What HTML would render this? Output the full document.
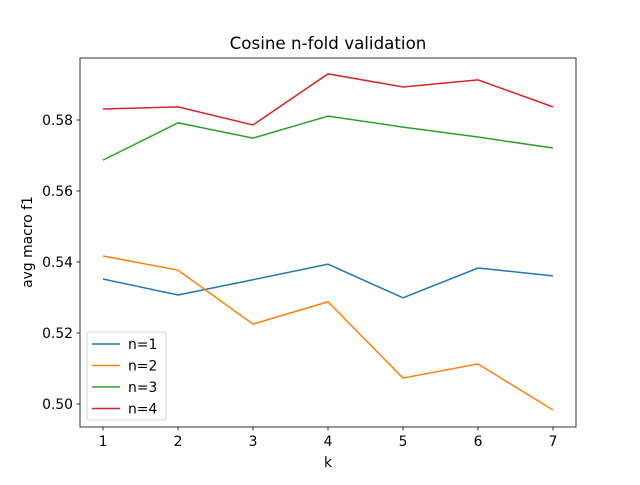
<!DOCTYPE html>
<html><head><meta charset="utf-8"><style>
body{margin:0;background:#fff;font-family:"Liberation Sans","DejaVu Sans",sans-serif}
svg text{font-family:"DejaVu Sans","Liberation Sans",sans-serif}
</style></head><body>
<svg id="chart" width="640" height="480" xmlns="http://www.w3.org/2000/svg">
<rect width="640" height="480" fill="#fff"/>
<g id="plot"></g>
</svg>
<script>
const categories=[1,2,3,4,5,6,7];
const seriesNames=["n=1","n=2","n=3","n=4"];
const n1=[0.5352,0.5307,0.5350,0.5394,0.5299,0.5383,0.5361];
const n2=[0.5417,0.5377,0.5225,0.5288,0.5073,0.5113,0.4983];
const n3=[0.5687,0.5792,0.5749,0.5811,0.5780,0.5752,0.5721];
const n4=[0.5831,0.5837,0.5786,0.5930,0.5893,0.5913,0.5837];
const yTicks=[0.50,0.52,0.54,0.56,0.58];
const xTicks=[1,2,3,4,5,6,7];
const colors=["#1f77b4","#ff7f0e","#2ca02c","#d62728"];
const L=80,R=576,T=58,B=427;
const x=v=>103+(v-1)*75;
const y=v=>404-(v-0.5)*3550;
const NS="http://www.w3.org/2000/svg";
const g=document.getElementById('plot');
function mk(t,a,p){const e=document.createElementNS(NS,t);for(const k in a)e.setAttribute(k,a[k]);(p||g).appendChild(e);return e;}
[n1,n2,n3,n4].forEach((s,i)=>{
 const p=mk('polyline',{points:s.map((v,j)=>x(categories[j])+','+y(v)).join(' '),fill:'none',stroke:colors[i],'stroke-width':1.5});
 
 
});
const fr=mk('rect',{x:L,y:T,width:R-L,height:B-T,fill:'none',stroke:'#000','stroke-width':0.8});


xTicks.forEach(t=>{
 mk('line',{x1:x(t),x2:x(t),y1:B,y2:B+3.5,stroke:'#000','stroke-width':0.8});
 const tx=mk('text',{x:x(t),y:B+19,'font-size':13.9,'text-anchor':'middle'});tx.textContent=t;
 
 
});
yTicks.forEach(t=>{
 mk('line',{x1:L-3.5,x2:L,y1:y(t),y2:y(t),stroke:'#000','stroke-width':0.8});
 const tx=mk('text',{x:L-7,y:y(t)+5,'font-size':13.9,'text-anchor':'end'});tx.textContent=t.toFixed(2);
 
 
});
const ti=mk('text',{x:328,y:49,'font-size':16.7,'text-anchor':'middle'});ti.textContent='Cosine n-fold validation';


const xl=mk('text',{x:328,y:467,'font-size':13.9,'text-anchor':'middle'});xl.textContent='k';


const yl=mk('text',{x:32,y:242,'font-size':13.9,'text-anchor':'middle',transform:'rotate(-90 32 242)'});yl.textContent='avg macro f1';


const lg=mk('g',{});


mk('rect',{x:87,y:332,width:79,height:88,rx:2,fill:'#fff',stroke:'#ccc','stroke-width':0.8},lg);
seriesNames.forEach((n,i)=>{
 const yy=344+i*21.5;
 const e=mk('g',{},lg);
 
 
 mk('line',{x1:92,x2:120,y1:yy,y2:yy,stroke:colors[i],'stroke-width':1.5},e);
 const t=mk('text',{x:128,y:yy+5,'font-size':13.9},e);t.textContent=n;
});
</script>
</body></html>
